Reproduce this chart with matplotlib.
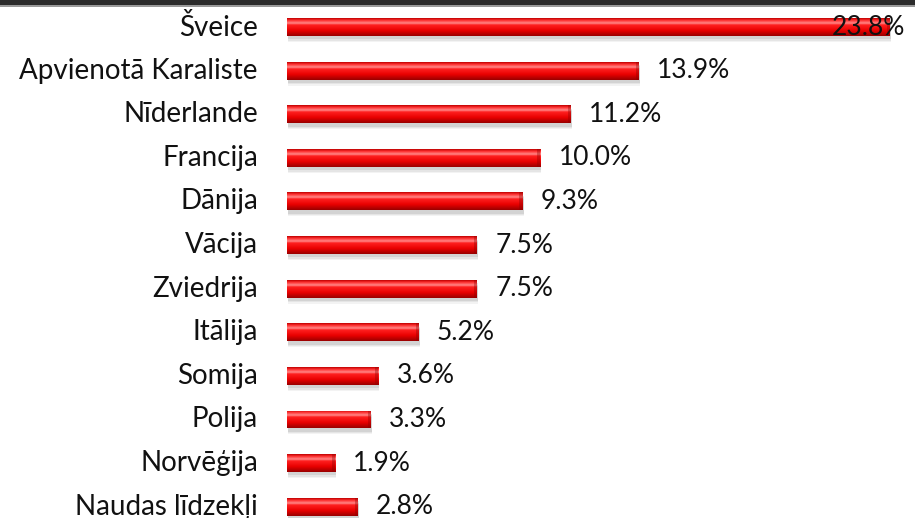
import numpy as np
import matplotlib
matplotlib.use('Agg')
import matplotlib.pyplot as plt
from matplotlib.patches import Rectangle
from matplotlib.colors import LinearSegmentedColormap

plt.rcParams['font.family'] = ['Lato', 'DejaVu Sans']

countries = ['Šveice', 'Apvienotā Karaliste', 'Nīderlande', 'Francija', 'Dānija',
             'Vācija', 'Zviedrija', 'Itālija', 'Somija', 'Polija', 'Norvēģija',
             'Naudas līdzekļi']
shares = [23.8, 13.9, 11.2, 10.0, 9.3, 7.5, 7.5, 5.2, 3.6, 3.3, 1.9, 2.8]

W, H = 915, 518
fig = plt.figure(figsize=(W / 100, H / 100), dpi=100)
fig.patch.set_facecolor('white')

# dark strip along the top edge
fig.patches.append(Rectangle((0, 1 - 5 / H), 1, 5 / H, transform=fig.transFigure,
                             facecolor='#2b2b2b', edgecolor='none'))
fig.patches.append(Rectangle((0, 1 - 6.5 / H), 1, 1.5 / H, transform=fig.transFigure,
                             facecolor='#9a9a9a', edgecolor='none'))

left = 287 / W
ax = fig.add_axes([left, 0, 1 - left, 1 - 5 / H])
XMAX = 24.8
ax.set_xlim(0, XMAX)
ax.set_ylim(11.26, -0.505)
ax.axis('off')

# vertical red gradient (cylinder look)
red = LinearSegmentedColormap.from_list('bar', [
    (0.0, '#c00000'), (0.12, '#ff3030'), (0.28, '#ff8a8a'), (0.38, '#ff2020'),
    (0.7, '#e80000'), (1.0, '#9a0000')])
grad = np.linspace(0, 1, 64).reshape(-1, 1)

bh = 0.41
for i, (name, v) in enumerate(zip(countries, shares)):
    # soft shadow under the bar
    for k, a in enumerate([0.10, 0.08, 0.06]):
        sh = Rectangle((0.05, i - bh / 2 + 0.08 + k * 0.03), v, bh,
                       facecolor='#404040', edgecolor='none', alpha=a, zorder=1)
        ax.add_patch(sh)
    bar = Rectangle((0, i - bh / 2), v, bh, facecolor='none', edgecolor='none', zorder=2)
    ax.add_patch(bar)
    im = ax.imshow(grad, cmap=red, aspect='auto', extent=(0, v, i + bh / 2, i - bh / 2),
                   zorder=2, interpolation='bilinear')
    im.set_clip_path(bar)
    # darker end cap
    ax.add_patch(Rectangle((v - 0.12, i - bh / 2), 0.12, bh, facecolor='#8a0000',
                           edgecolor='none', alpha=0.35, zorder=3))

    ax.text(-1.15, i, name, ha='right', va='center', fontsize=20, color='#111111',
            clip_on=False)
    if v + 0.75 + 3.0 > XMAX:
        ax.text(XMAX - 0.4, i, f'{v:.1f}%', ha='right', va='center',
                fontsize=19, color='#111111', zorder=4)
    else:
        ax.text(v + 0.72, i, f'{v:.1f}%', ha='left', va='center', fontsize=19,
                color='#111111', zorder=4)

ax.set_xlim(0, XMAX)
ax.set_ylim(11.26, -0.505)

plt.savefig('out.png', dpi=100)
